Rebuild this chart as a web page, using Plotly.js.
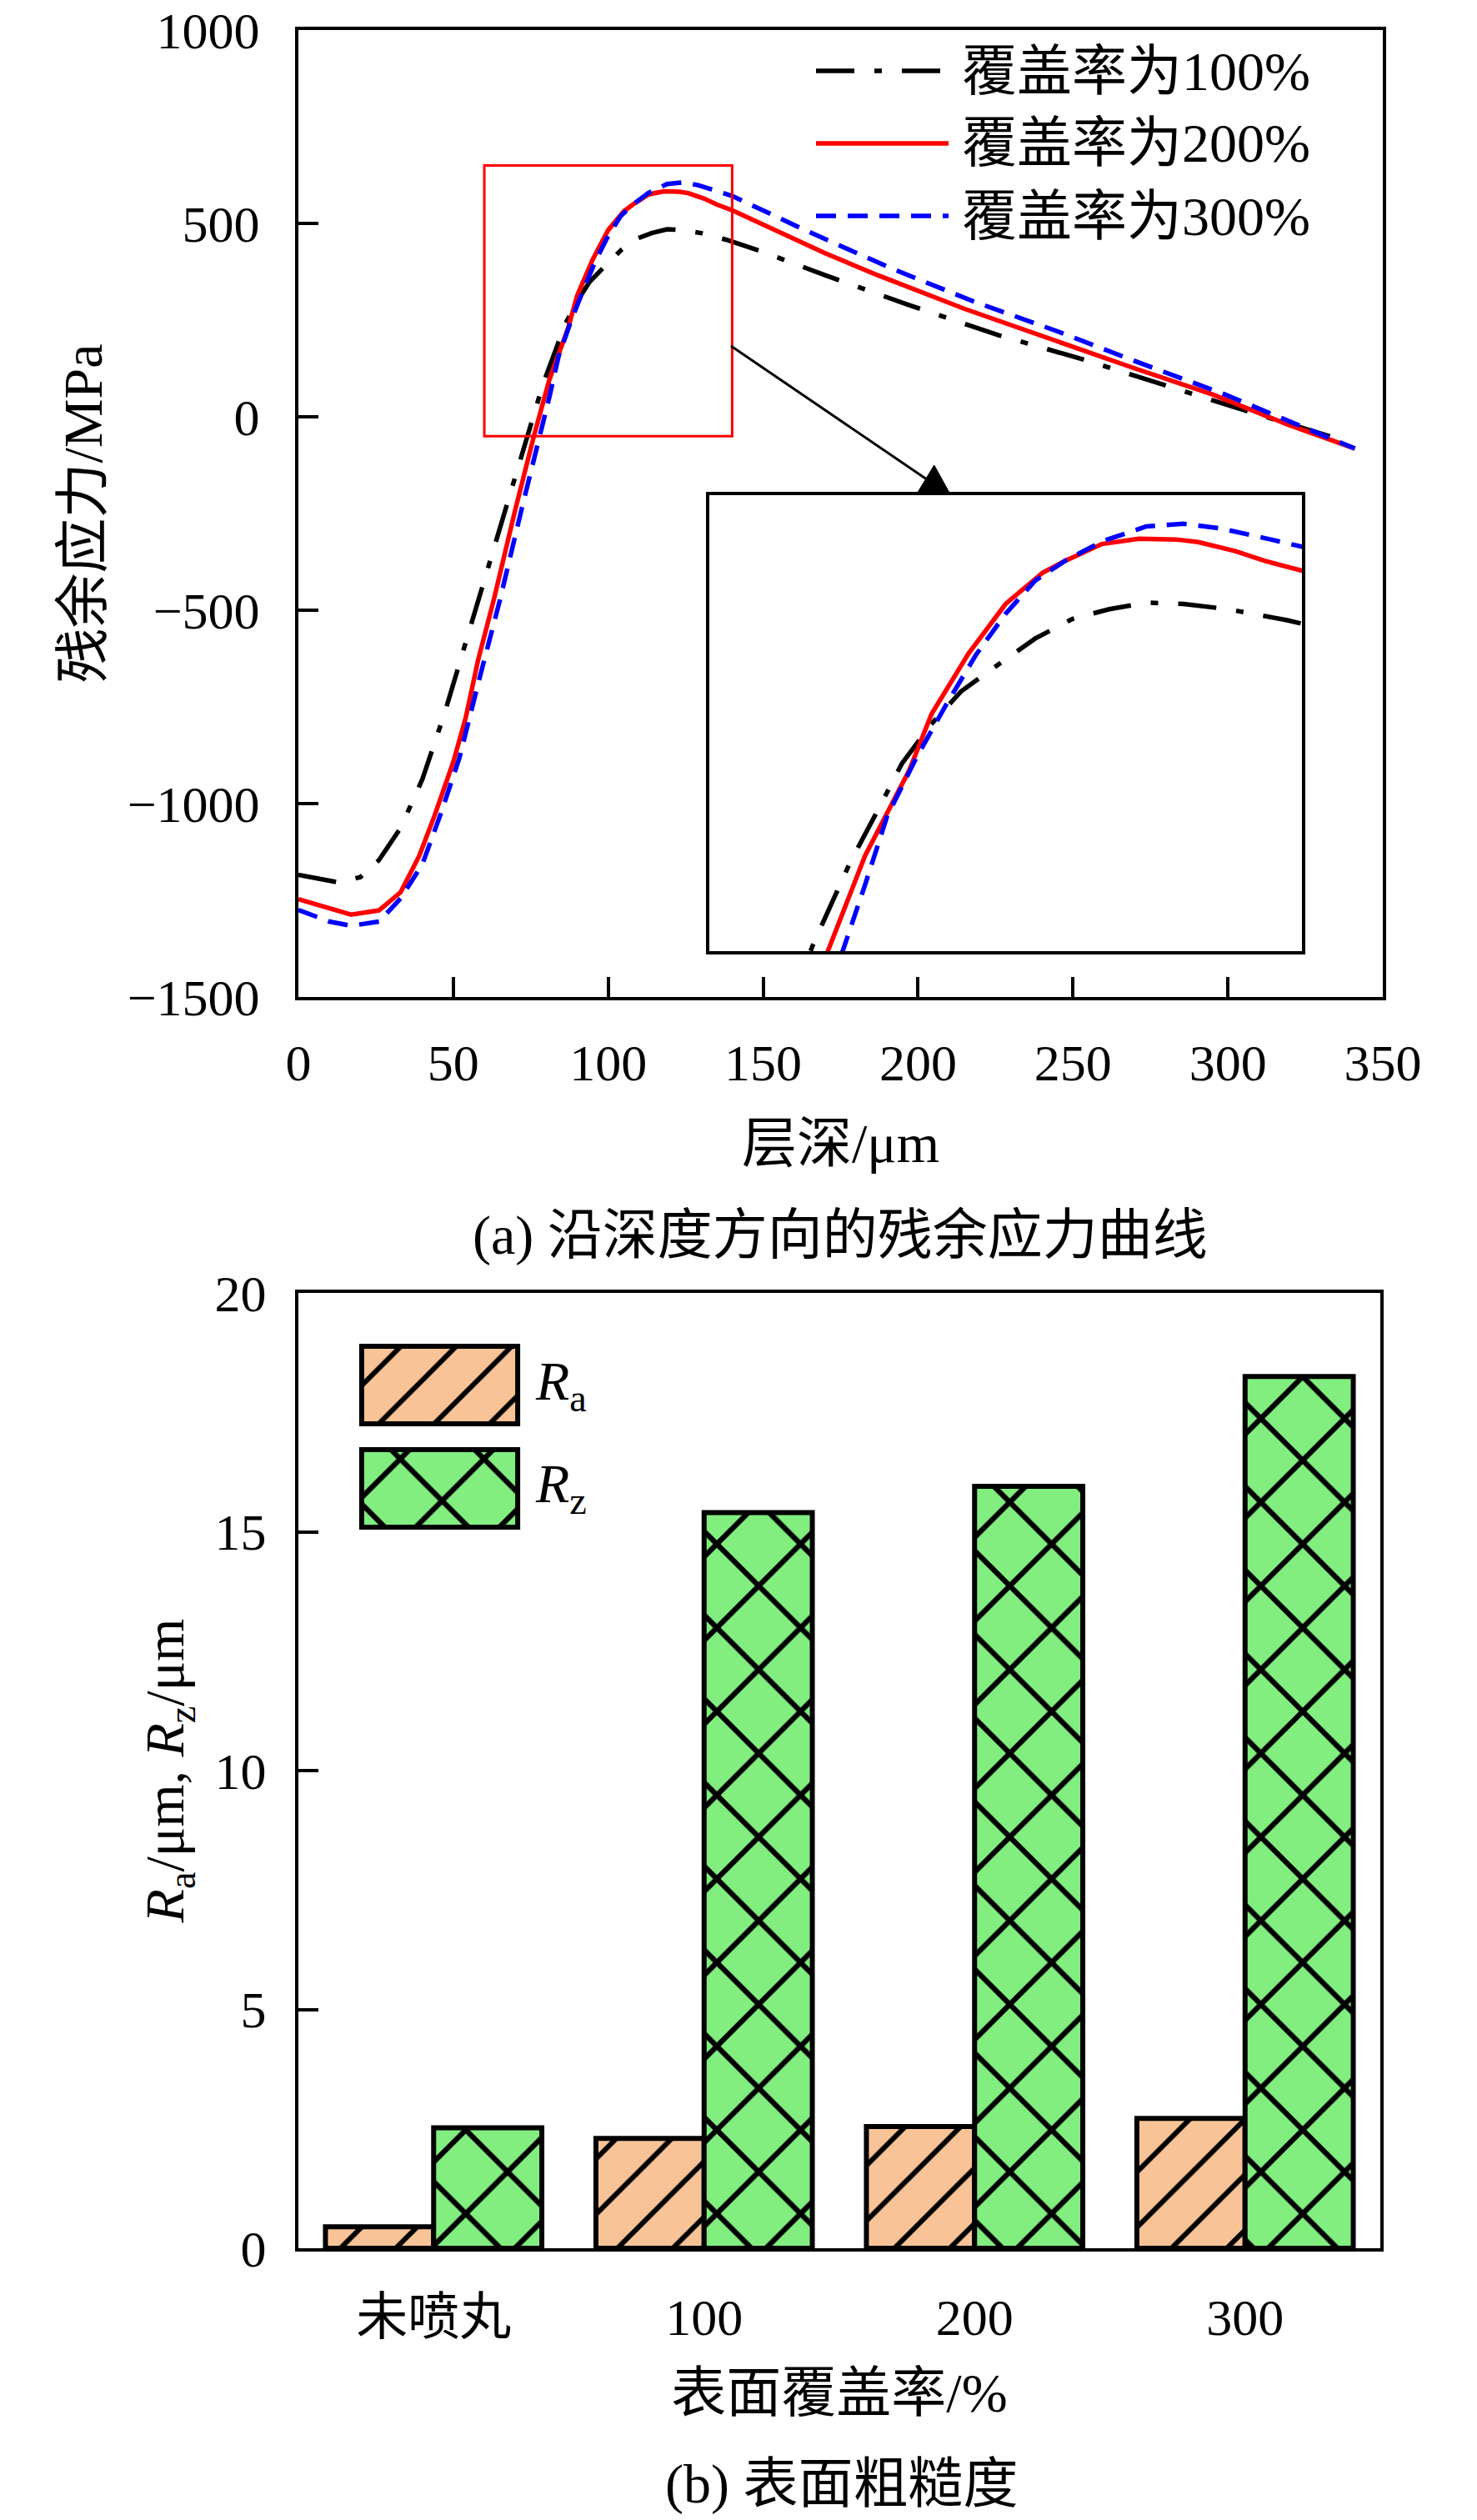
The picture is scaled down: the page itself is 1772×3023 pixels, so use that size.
<!DOCTYPE html>
<html>
<head>
<meta charset="utf-8">
<script src="https://cdn.plot.ly/plotly-3.0.1.min.js"></script>
<style>html,body{margin:0;padding:0;background:#fff}</style>
</head>
<body>
<div id="chart" style="width:1772px;height:3023px"></div>
<script>
// (a) residual stress vs depth
const seriesNames = ['覆盖率为100%', '覆盖率为200%', '覆盖率为300%'];

const depth100 = [0, 13, 20, 26, 33, 40, 47, 53, 58, 64, 70, 74, 79, 83, 86, 90, 94, 99, 104, 109, 114, 119, 124, 130, 138, 150, 170, 197, 226, 253, 281, 308, 337];
const stress100 = [-1184, -1204, -1190, -1146, -1063, -937, -771, -610, -475, -312, -157, -40, 86, 172, 238, 299, 349, 390, 430, 460, 475, 485, 483, 475, 458, 426, 366, 289, 211, 149, 77, 10, -60];

const depth200 = [0, 9, 17, 26, 33, 39, 44, 50, 54, 58, 63, 70, 76, 81, 87, 90, 95, 100, 105, 108, 113, 118, 123, 126, 131, 135, 140, 170, 187, 215, 242, 270, 295, 319, 341];
const stress200 = [-1247, -1269, -1287, -1276, -1229, -1135, -1030, -892, -778, -629, -475, -240, -50, 96, 228, 314, 407, 483, 531, 549, 575, 583, 582, 578, 564, 549, 534, 423, 366, 279, 202, 125, 58, -19, -82];

const depth300 = [0, 10, 17, 26, 33, 40, 46, 52, 58, 65, 72, 78, 81, 84, 88, 92, 96, 100, 104, 108, 113, 119, 124, 129, 135, 140, 164, 191, 218, 245, 270, 299, 322, 341];
const stress300 = [-1275, -1305, -1316, -1305, -1245, -1157, -1025, -881, -690, -475, -240, -50, 51, 157, 248, 329, 405, 468, 519, 549, 579, 602, 606, 599, 584, 571, 481, 385, 298, 221, 144, 58, -19, -82];

// (b) surface roughness
const groups = ['未喷丸', '100', '200', '300'];
const roughNames = ['Ra', 'Rz'];
const raValues = [0.45, 2.3, 2.55, 2.72];
const rzValues = [2.52, 15.4, 15.95, 18.25];

const W = 1772, H = 3023;
const px = v => v / W;
const py = v => 1 - v / H;

const FONT = "'Liberation Serif', 'Noto Sans CJK SC', serif";
const raColor = '#F8C497';
const rzColor = '#82EE80';

const lineStyles = [
    { color: 'black', width: 5.5, dash: '46px,24px,9px,24px' },
    { color: '#ff0000', width: 5.5, dash: 'solid' },
    { color: '#0000ff', width: 5.5, dash: '24px,14px' }
];
const depths = [depth100, depth200, depth300];
const stresses = [stress100, stress200, stress300];

const traces = [];
// main curves and the magnified copy in the inset
['x', 'x2'].forEach((xa, k) => {
    depths.forEach((d, i) => {
        traces.push({
            type: 'scatter', mode: 'lines',
            x: d, y: stresses[i],
            name: seriesNames[i],
            xaxis: xa, yaxis: k ? 'y2' : 'y',
            line: lineStyles[i],
            cliponaxis: true,
            showlegend: false
        });
    });
});

const raPattern = { shape: '/', size: 47, solidity: 0.13, fgcolor: 'black', bgcolor: raColor, fgopacity: 1 };
const rzPattern = { shape: 'x', size: 71, solidity: 0.17, fgcolor: 'black', bgcolor: rzColor, fgopacity: 1 };

traces.push({
    type: 'bar', x: groups, y: raValues, name: 'Ra',
    xaxis: 'x3', yaxis: 'y3',
    marker: { color: raColor, line: { color: 'black', width: 6 }, pattern: raPattern },
    showlegend: false
});
traces.push({
    type: 'bar', x: groups, y: rzValues, name: 'Rz',
    xaxis: 'x3', yaxis: 'y3',
    marker: { color: rzColor, line: { color: 'black', width: 6 }, pattern: rzPattern },
    showlegend: false
});
// legend swatches for (b), one bar each on a hidden axis
[raPattern, rzPattern].forEach((pat, i) => {
    traces.push({
        type: 'bar', orientation: 'h', y: [roughNames[i]], x: [0.96], base: 0.02,
        width: 0.75, offset: -0.375,
        xaxis: 'x4', yaxis: 'y4',
        marker: { color: pat.bgcolor, line: { color: 'black', width: 6 }, pattern: pat },
        hoverinfo: 'skip',
        showlegend: false
    });
});

const tickFont = { family: FONT, size: 62, color: 'black' };
const titleFont = { family: FONT, size: 66, color: 'black' };

const frame = {
    showline: true, linewidth: 4, linecolor: 'black', mirror: true,
    showgrid: false, zeroline: false,
    ticks: 'inside', ticklen: 24, tickwidth: 4, tickcolor: 'black',
    tickfont: tickFont
};

const shapes = [
    // zoom window
    { type: 'rect', xref: 'x', yref: 'y', x0: 60, x1: 140, y0: -50, y1: 650, line: { color: '#ff0000', width: 3 } },
    // arrow to the inset
    { type: 'line', xref: 'x', yref: 'y', x0: 139.6, y0: 183, x1: 202.5, y1: -160, line: { color: 'black', width: 3 } },
    { type: 'path', xref: 'x', yref: 'y', path: 'M205.2,-125 L199.6,-199 L210.3,-199 Z', fillcolor: 'black', line: { color: 'black', width: 1 } }
];
const annotations = [];

// legend for (a)
const legendY = [85, 172, 259];
seriesNames.forEach((n, i) => {
    shapes.push({
        type: 'line', xref: 'paper', yref: 'paper',
        x0: px(979), x1: px(1138), y0: py(legendY[i]), y1: py(legendY[i]),
        line: lineStyles[i]
    });
    annotations.push({
        xref: 'paper', yref: 'paper', x: px(1152), y: py(legendY[i]),
        xanchor: 'left', yanchor: 'middle', showarrow: false,
        text: n, font: { family: FONT, size: 66, color: 'black' }
    });
});
// legend labels for (b)
const swatchY = [1661, 1785];
roughNames.forEach((n, i) => {
    annotations.push({
        xref: 'paper', yref: 'paper', x: px(640), y: py(swatchY[i]),
        xanchor: 'left', yanchor: 'middle', showarrow: false,
        text: '<i>R</i><sub>' + n.slice(1) + '</sub>',
        font: { family: FONT, size: 66, color: 'black' }
    });
});
// captions
annotations.push({
    xref: 'paper', yref: 'paper', x: px(1008), y: py(1482), showarrow: false,
    xanchor: 'center', yanchor: 'middle',
    text: '(a) 沿深度方向的残余应力曲线', font: { family: FONT, size: 66, color: 'black' }
});
annotations.push({
    xref: 'paper', yref: 'paper', x: px(1010), y: py(2980), showarrow: false,
    xanchor: 'center', yanchor: 'middle',
    text: '(b) 表面粗糙度', font: { family: FONT, size: 66, color: 'black' }
});

const layout = {
    width: W, height: H,
    margin: { l: 0, r: 0, t: 0, b: 0 },
    paper_bgcolor: 'white', plot_bgcolor: 'white',
    showlegend: false,
    barmode: 'group', bargap: 0.2, bargroupgap: 0,
    font: { family: FONT, color: 'black' },
    xaxis: Object.assign({}, frame, {
        domain: [px(358), px(1659)], anchor: 'y', range: [0, 350], dtick: 50,
        ticklabelstandoff: 22,
        title: { text: '层深/μm', font: titleFont, standoff: 40 }
    }),
    yaxis: Object.assign({}, frame, {
        domain: [py(1196), py(36)], anchor: 'x', range: [-1500, 1000], dtick: 500,
        ticklabelstandoff: 30,
        title: { text: '残余应力/MPa', font: titleFont, standoff: 10 }
    }),
    xaxis2: {
        domain: [px(851), px(1562)], anchor: 'y2', range: [60, 140],
        showline: true, linewidth: 4, linecolor: 'black', mirror: true,
        showgrid: false, zeroline: false, showticklabels: false, ticks: ''
    },
    yaxis2: {
        domain: [py(1141), py(594)], anchor: 'x2', range: [-50, 650],
        showline: true, linewidth: 4, linecolor: 'black', mirror: true,
        showgrid: false, zeroline: false, showticklabels: false, ticks: ''
    },
    xaxis3: Object.assign({}, frame, {
        domain: [px(358), px(1656)], anchor: 'y3', range: [-0.5, 3.5], type: 'category',
        ticks: '', ticklabelstandoff: 26,
        title: { text: '表面覆盖率/%', font: titleFont, standoff: 34 }
    }),
    yaxis3: Object.assign({}, frame, {
        domain: [py(2697), py(1551)], anchor: 'x3', range: [0, 20], dtick: 5,
        ticklabelstandoff: 22,
        title: { text: '<i>R</i><sub>a</sub>/μm, <i>R</i><sub>z</sub>/μm', font: titleFont, standoff: 16 }
    }),
    xaxis4: { domain: [px(430), px(625)], anchor: 'y4', range: [0, 1], visible: false, fixedrange: true },
    yaxis4: { domain: [py(1847.5), py(1599.5)], anchor: 'x4', type: 'category', categoryarray: roughNames, range: [1.5, -0.5], visible: false, fixedrange: true },
    shapes: shapes,
    annotations: annotations
};

Plotly.newPlot('chart', traces, layout, { staticPlot: true });
</script>
</body>
</html>
